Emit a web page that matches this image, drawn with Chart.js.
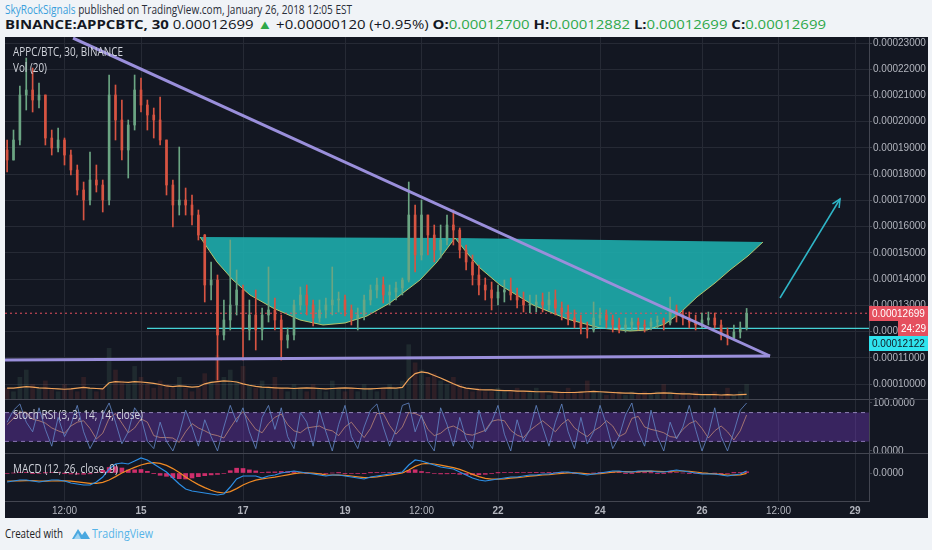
<!DOCTYPE html>
<html>
<head>
<meta charset="utf-8">
<script src="https://cdn.jsdelivr.net/npm/chart.js@4.4.1/dist/chart.umd.min.js"></script>
<style>
html, body { margin: 0; padding: 0; width: 932px; height: 550px; overflow: hidden; background: #f0f3f7; font-family: "Open Sans", sans-serif; }
.txt { position: absolute; white-space: nowrap; transform-origin: 0 50%; line-height: 16px; }
.g { color: #2ea84a; font-weight: 400; }
#frame { position: absolute; left: 5px; top: 37px; width: 923px; height: 481px; background: #131722; }
canvas { position: absolute; left: 5px; }
.sep { position: absolute; left: 5px; width: 923px; height: 1px; background: #434651; }
.lbl { position: absolute; color: #d1d4dc; font-size: 12px; white-space: nowrap; transform-origin: 0 50%; line-height: 14px; z-index: 5; }
</style>
</head>
<body>
<div class="txt" data-w="347" style="left:5px;top:1px;font-size:13px;color:#2a2e39"><span style="color:#3a9fdc">SkyRockSignals</span> published on TradingView.com, January 26, 2018 12:05 EST</div>
<div class="txt" data-w="821" style="left:5px;top:16px;font-size:13px;color:#131722"><b>BINANCE:APPCBTC, 30</b> 0.00012699 <span class="g">&#9650;</span> +0.00000120 (+0.95%) <b>O:</b><span class="g">0.00012700</span> <b>H:</b><span class="g">0.00012882</span> <b>L:</b><span class="g">0.00012699</span> <b>C:</b><span class="g">0.00012699</span></div>

<div id="frame"></div>
<canvas id="price" width="923" height="382" style="top:27px"></canvas>
<canvas id="stoch" width="923" height="74" style="top:389px"></canvas>
<canvas id="macd" width="923" height="75" style="top:443px"></canvas>
<div class="sep" style="top:399px"></div>
<div class="sep" style="top:453px"></div>

<div class="lbl" data-w="110" style="left:13px;top:45px">APPC/BTC, 30, BINANCE</div>
<div class="lbl" data-w="34" style="left:13px;top:61px">Vol (20)</div>
<div class="lbl" data-w="130" style="left:13px;top:408px">Stoch RSI (3, 3, 14, 14, close)</div>
<div class="lbl" data-w="105" style="left:13px;top:462px">MACD (12, 26, close, 9)</div>

<div class="txt" data-w="58" style="left:5px;top:526px;font-size:12px;color:#222">Created with</div>
<svg style="position:absolute;left:71px;top:525px" width="20" height="16" viewBox="0 0 20 16">
  <path d="M1 14 L7 4 L11 10 L14 6 L19 14 Z" fill="#4aa8e0"/>
  <path d="M3 14 L7 8 L10 14 Z" fill="#9fd3f2"/>
</svg>
<div class="txt" data-w="61" style="left:92px;top:526px;font-size:12.5px;color:#56b3e8">TradingView</div>

<script>
// ---- axes ----
const xMin = 12.3333, xMax = 29.2745;           // days of January 2018
const tickDays = [13.5, 15, 17, 19, 20.5, 22, 24, 26, 27.5, 29];
const tickLabels = ['12:00', '15', '17', '19', '12:00', '22', '24', '26', '12:00', '29'];
const priceTicks = [10000, 11000, 12000, 13000, 14000, 15000, 16000, 17000, 18000, 19000, 20000, 21000, 22000, 23000]; // satoshi
const stochTicks = [0, 100];
const macdTicks = [0];

// ---- candles (3h, satoshi) ----
const firstCandleDay = 12.375, candleStep = 0.125;
const firstOpen = 18921;
const candleHigh = [
  19302, 19683, 21361, 22428, 22047, 21475, 21018, 19683, 19760, 19378,
  18921, 18349, 17701, 18845, 18349, 17777, 21780, 21399, 20827, 20065,
  21780, 21666, 20827, 20522, 20941, 19302, 17777, 19035, 17472, 17206,
  16634, 15700, 14652, 14156, 13203, 15490, 14347, 13775, 13203, 13584,
  12898, 14461, 13279, 12631, 12136, 13203, 13699, 13775, 13203, 13203,
  13279, 14461, 13508, 13394, 13013, 12898, 13394, 13775, 14042, 14080,
  13775, 13889, 14042, 17701, 16824, 17015, 16443, 16062, 16062, 16443,
  16634, 15948, 15299, 14918, 14537, 14042, 13889, 13775, 13965, 14042,
  13660, 13508, 13394, 13394, 13470, 13508, 13584, 13127, 13013, 12822,
  12631, 12364, 13127, 12898, 12822, 12631, 12517, 12517, 12517, 12517,
  12441, 12517, 12593, 12517, 13318, 13013, 12822, 12746, 12631, 12708,
  12746, 12708, 12441, 12136, 12250, 12364, 12882];
const candleLow = [
  18082, 18540, 19112, 20446, 20370, 20522, 19112, 18730, 18845, 18349,
  17968, 17206, 16253, 16824, 17320, 16558, 16824, 19302, 18540, 17853,
  19683, 20370, 19683, 19378, 19112, 17206, 15986, 16443, 16443, 16062,
  15490, 13127, 13203, 10153, 11678, 12059, 12631, 10916, 11678, 11297,
  11678, 12364, 12059, 10916, 11373, 11678, 12822, 12631, 12212, 12364,
  12517, 12631, 12746, 12593, 12250, 12059, 12441, 13013, 13279, 13089,
  13013, 13203, 13394, 13889, 14270, 14728, 14918, 14652, 14804, 15299,
  15299, 14804, 14347, 13775, 13394, 13203, 12822, 13013, 13127, 13203,
  12898, 12746, 12708, 12746, 12746, 12822, 12631, 12441, 12250, 12136,
  11907, 11754, 11983, 12250, 12136, 11983, 11945, 11983, 12059, 12059,
  11983, 12059, 12136, 12059, 12250, 12364, 12250, 12136, 12059, 12136,
  12250, 12136, 11678, 11488, 11678, 11754, 12059];
const candleClose = [
  18540, 19302, 21018, 21208, 20827, 21018, 19378, 18997, 19302, 18730,
  18159, 17396, 17015, 17777, 17587, 17015, 21018, 20065, 18921, 19874,
  21208, 20636, 20255, 20065, 19302, 17587, 16824, 17015, 16824, 16443,
  15681, 13775, 13965, 11869, 12441, 13013, 13584, 12059, 12631, 12059,
  12631, 12822, 12441, 11678, 11869, 13013, 13394, 13013, 12517, 12822,
  13013, 13203, 13203, 12822, 12517, 12631, 13203, 13584, 13775, 13394,
  13508, 13660, 13965, 16443, 14918, 16443, 15681, 15109, 15490, 16062,
  15871, 15109, 14652, 14156, 13775, 13584, 13279, 13508, 13584, 13394,
  13203, 13013, 13013, 13127, 13013, 13203, 12898, 12746, 12517, 12364,
  12136, 12059, 12517, 12631, 12441, 12250, 12136, 12250, 12364, 12250,
  12212, 12364, 12441, 12326, 12822, 12631, 12517, 12364, 12250, 12441,
  12517, 12250, 11869, 11754, 11983, 12136, 12699];

// ---- volume ----
const volume = [
  3, 2, 6, 8, 4, 3, 5, 3, 2, 4, 3, 2, 6, 3, 2, 3,
  14, 8, 5, 4, 9, 6, 4, 3, 5,
  4, 3, 6, 3, 2, 3,
  7, 5, 12, 6, 8, 5, 9,
  4, 3, 5, 3, 6, 3, 2, 4,
  3, 2, 4, 3, 2, 5, 3, 2, 3, 2, 4, 3, 2, 3, 4, 3, 5,
  15, 10, 8, 6, 7, 5, 4, 6,
  4, 3, 2, 3, 2, 2, 3, 2, 2, 3,
  2, 2, 3, 2, 1, 2, 2, 3, 2, 2, 5, 2, 2, 1, 2, 2, 1, 2, 1, 2,
  1, 2, 4, 2, 1, 2, 1, 2, 1, 1, 2, 1, 3, 1, 2, 4];
const volumeMA = [
  3.0, 3.0, 3.2, 3.4, 3.3, 3.1, 3.0, 2.9, 2.8, 2.7, 2.8, 3.0, 3.2, 3.0, 2.9, 2.8,
  4.5, 4.8, 4.7, 4.6, 4.8, 4.7, 4.5, 4.3, 4.0,
  3.6, 3.4, 3.6, 3.5, 3.3, 3.4,
  4.2, 4.6, 4.8, 5.0, 4.9, 4.7, 4.2,
  3.8, 3.5, 3.3, 3.2, 3.1, 3.0, 3.0, 2.9,
  3.0, 3.1, 3.0, 2.9, 2.8, 2.9, 3.0, 3.1, 3.0, 2.9, 2.8, 2.8, 2.9, 3.0, 3.1, 3.0, 3.2,
  5.5, 7.0, 7.5, 7.2, 6.5, 5.8, 5.0, 4.2,
  3.5, 3.0, 2.8, 2.6, 2.5, 2.5, 2.4, 2.3, 2.3, 2.2,
  2.2, 2.1, 2.0, 2.0, 2.0, 1.9, 1.8, 1.8, 1.8, 1.9, 2.0, 2.1, 2.0, 1.9, 1.8, 1.7, 1.6, 1.6, 1.5, 1.5,
  1.5, 1.6, 1.7, 1.6, 1.5, 1.4, 1.4, 1.3, 1.2, 1.2, 1.2, 1.1, 1.2, 1.1, 1.2, 1.3];

// ---- drawings on the price pane (day, satoshi) ----
const cup1Days = [16.157, 16.490, 16.804, 17.137, 17.588, 18.118, 18.569, 19.000, 19.431, 19.882, 20.137, 20.471, 20.804, 21.157];
const cup1Prices = [15605, 14652, 13965, 13394, 12898, 12441, 12250, 12326, 12593, 13089, 13470, 13965, 14652, 15567];
const cup1TopDays = [16.157, 21.157];
const cup1TopPrices = [15605, 15567];
const cup2Days = [21.157, 21.392, 21.647, 22.039, 22.686, 23.353, 24.000, 24.588, 24.922, 25.275, 25.569, 25.902, 26.255, 26.549, 26.902, 27.196];
const cup2Prices = [15567, 14995, 14423, 13775, 13013, 12479, 12136, 12021, 12059, 12288, 12708, 13318, 13851, 14347, 14881, 15414];
const cup2TopDays = [21.157, 27.196];
const cup2TopPrices = [15567, 15414];
const fallingLine = [[13.667, 23190], [27.333, 11068]];
const supportLine = [[12.333, 10916], [27.333, 11068]];
const lastPrice = 12699;
const cyanLevel = 12122;
const cyanStartDay = 15.118;
const arrowLine = [[27.529, 13279], [28.706, 17053]];
const countdown = '24:29';

// ---- stoch RSI ----
const stochK = [
  60, 85, 98, 60, 40, 90, 45, 10, 70, 30,
  55, 95, 40, 5, 30, 75, 100, 60, 15, 40,
  90, 70, 20, 5, 60, 20, 0, 35, 85, 50,
  10, 65, 30, 0, 50, 95, 60, 90, 40, 5,
  70, 95, 45, 90, 30, 5, 80, 60, 10, 85,
  40, 0, 55, 95, 30, 5, 50, 85, 98, 50,
  10, 45, 95, 100, 40, 75, 20, 0, 90, 55,
  10, 70, 25, 5, 85, 40, 60, 95, 35, 0,
  65, 20, 45, 95, 50, 10, 60, 98, 40, 5,
  70, 15, 40, 95, 55, 5, 30, 75, 100, 40,
  10, 85, 30, 0, 60, 25, 50, 95, 45, 0,
  35, 90, 30, 0, 40, 85, 100];
const stochD = [
  55, 68, 81, 81, 66, 63, 58, 48, 42, 37,
  52, 60, 63, 47, 25, 37, 68, 78, 58, 38,
  48, 67, 60, 32, 28, 28, 27, 18, 40, 57,
  48, 42, 35, 32, 27, 48, 68, 82, 63, 45,
  38, 57, 70, 77, 55, 42, 38, 48, 50, 52,
  45, 42, 32, 50, 60, 43, 28, 47, 78, 78,
  53, 35, 50, 80, 78, 72, 45, 32, 37, 48,
  52, 45, 35, 33, 38, 43, 62, 65, 63, 43,
  33, 28, 43, 53, 63, 52, 40, 56, 66, 48,
  38, 30, 42, 50, 63, 52, 30, 37, 68, 72,
  50, 45, 42, 38, 30, 28, 45, 57, 63, 47,
  27, 42, 52, 40, 23, 42, 75];
const stochBands = [80, 20];

// ---- MACD (satoshi) ----
const macdLine = [
  -450, -400, -350, -350, -400, -450, -400, -350, -350, -400,
  -500, -550, -600, -600, -450, -200, 200, 450, 500, 450,
  600, 750, 650, 450, 250, 50, -250, -550, -800, -900,
  -950, -1000, -1050, -1100, -1050, -700, -300, -150, -150, -150,
  -250, -150, -100, 0, 50, 100, 50, 0, -50, -100,
  -150, -100, -100, -150, -200, -250, -300, -200, -150, -100,
  -50, 0, 50, 400, 650, 600, 500, 400, 300, 250,
  200, 50, -100, -250, -350, -400, -350, -300, -250, -200,
  -200, -150, -100, -100, -50, -50, 0, 50, 50, 0,
  -50, -100, -50, 0, 50, 100, 100, 50, 50, 100,
  100, 100, 50, 50, 100, 150, 100, 50, 0, -50,
  -50, -50, -100, -150, -100, -50, 100];
const macdSignal = [
  -400, -400, -390, -380, -380, -400, -410, -400, -390, -390,
  -410, -440, -480, -520, -520, -470, -350, -180, 0, 150,
  280, 400, 480, 520, 480, 380, 220, 20, -200, -400,
  -580, -730, -860, -960, -1000, -930, -780, -600, -460, -360,
  -290, -250, -210, -150, -90, -30, 10, 10, -10, -40,
  -90, -100, -110, -120, -150, -190, -230, -220, -190, -150,
  -110, -60, 0, 150, 330, 450, 480, 450, 390, 330,
  270, 180, 60, -70, -180, -270, -310, -310, -290, -260,
  -230, -200, -160, -130, -100, -80, -50, -20, 10, 10,
  -10, -40, -50, -30, 0, 40, 70, 70, 60, 70,
  80, 90, 80, 70, 80, 100, 100, 80, 50, 10,
  -20, -40, -70, -100, -110, -90, -20];
const macdHist = [
  -25, 0, 20, 15, -10, -25, 5, 25, 20, -5,
  -45, -55, -60, -40, 35, 135, 275, 315, 250, 150,
  160, 175, 85, -35, -115, -165, -235, -285, -300, -250,
  -185, -135, -95, -70, -25, 115, 240, 225, 155, 105,
  20, 50, 55, 75, 70, 65, 20, -5, -20, -30,
  -30, 0, 5, -15, -25, -30, -35, 10, 20, 25,
  30, 30, 25, 125, 160, 75, 10, -25, -45, -40,
  -35, -65, -80, -90, -85, -65, -20, 5, 20, 30,
  15, 25, 30, 15, 25, 15, 25, 35, 20, -5,
  -20, -30, 0, 15, 25, 30, 15, -10, -5, 15,
  10, 5, -15, -10, 10, 25, 0, -15, -25, -30,
  -15, -5, -15, -25, 5, 20, 60];

// ---- styling ----
const upColor = '#6ba583', downColor = '#d75442';
const gridColor = '#262a35', axisColor = '#434651', tickColor = '#b2b5be';
const axisFont = '"Liberation Sans", Arial, sans-serif';

const candleTimes = candleClose.map((_, i) => firstCandleDay + i * candleStep);
const candleOpen = candleClose.map((c, i) => i === 0 ? firstOpen : candleClose[i - 1]);
const isUp = i => candleClose[i] >= candleOpen[i];
const pts = (xs, ys) => xs.map((x, i) => ({x: x, y: ys[i]}));
const pairPts = arr => arr.map(p => ({x: p[0], y: p[1]}));
const fmtPrice = v => (v / 1e8).toFixed(8);

function xScale(showLabels) {
    return {
        type: 'linear', min: xMin, max: xMax, offset: false,
        afterBuildTicks: s => { s.ticks = tickDays.map(v => ({value: v})); },
        afterFit: s => { s.height = showLabels ? 17 : 0; },
        grid: {color: gridColor, drawTicks: false, offset: false},
        border: {display: showLabels, color: axisColor},
        ticks: {
            display: showLabels, autoSkip: false, maxRotation: 0, padding: 4, color: tickColor,
            callback: (v, i) => tickLabels[i],
            font: ctx => ({family: axisFont, size: 10, weight: tickLabels[ctx.index] === '12:00' ? 'normal' : 'bold'})
        }
    };
}

function yScale(min, max, ticks, fmt, gridOn) {
    return {
        position: 'right', min: min, max: max,
        afterBuildTicks: s => { s.ticks = ticks.map(v => ({value: v})); },
        afterFit: s => { s.width = 59; },
        grid: {color: gridOn ? gridColor : 'transparent', tickLength: 3, tickColor: axisColor},
        border: {color: axisColor},
        ticks: {color: tickColor, font: {family: axisFont, size: 10}, padding: 1, callback: fmt}
    };
}

const baseOptions = {
    responsive: false, animation: false, events: [],
    plugins: {legend: {display: false}, tooltip: {enabled: false}},
    elements: {point: {radius: 0}, line: {tension: 0}},
};

function tag(ctx, x, y, w, text, bg, fg) {
    ctx.fillStyle = bg;
    ctx.fillRect(x, Math.round(y) - 7, w, 15);
    ctx.fillStyle = fg;
    ctx.fillText(text, x + 3, Math.round(y) + 1);
}

const priceOverlay = {
    id: 'priceOverlay',
    afterDatasetsDraw(chart) {
        const meta = chart.getDatasetMeta(chart.data.datasets.findIndex(d => d.label === 'arrow'));
        const p0 = meta.data[0], p1 = meta.data[1];
        const a = Math.atan2(p1.y - p0.y, p1.x - p0.x);
        const ctx = chart.ctx;
        ctx.save();
        ctx.strokeStyle = '#2fb6c8';
        ctx.lineWidth = 1.5;
        ctx.beginPath();
        ctx.moveTo(p1.x - 9 * Math.cos(a - 0.45), p1.y - 9 * Math.sin(a - 0.45));
        ctx.lineTo(p1.x, p1.y);
        ctx.lineTo(p1.x - 9 * Math.cos(a + 0.45), p1.y - 9 * Math.sin(a + 0.45));
        ctx.stroke();
        ctx.restore();
    },
    afterDraw(chart) {
        const {ctx, chartArea, scales} = chart;
        const right = chartArea.right;
        ctx.save();
        ctx.font = '10px ' + axisFont;
        ctx.textBaseline = 'middle';
        const yLast = scales.y.getPixelForValue(lastPrice);
        const yCyan = scales.y.getPixelForValue(cyanLevel);
        tag(ctx, right, yLast, 59, fmtPrice(lastPrice), '#e5505f', '#ffffff');
        tag(ctx, right, yCyan + 14.5, 59, fmtPrice(cyanLevel), '#2fe3ee', '#131722');
        tag(ctx, right + 29, yCyan, 30, countdown, '#e5505f', '#ffffff');
        ctx.restore();
    }
};

new Chart(document.getElementById('price'), {
    type: 'bar',
    data: {
        datasets: [
            {type: 'line', label: 'cup1', data: pts(cup1Days, cup1Prices), borderColor: 'rgba(196,206,110,0.9)', borderWidth: 1,
             backgroundColor: 'rgba(30,172,172,0.9)', fill: '+1', order: 7},
            {type: 'line', label: 'cup1top', data: pts(cup1TopDays, cup1TopPrices), borderWidth: 0, borderColor: 'transparent', order: 7},
            {type: 'line', label: 'cup2', data: pts(cup2Days, cup2Prices), borderColor: 'rgba(196,206,110,0.9)', borderWidth: 1,
             backgroundColor: 'rgba(30,172,172,0.9)', fill: '+1', order: 7},
            {type: 'line', label: 'cup2top', data: pts(cup2TopDays, cup2TopPrices), borderWidth: 0, borderColor: 'transparent', order: 7},
            {label: 'volume', yAxisID: 'yVol', data: pts(candleTimes, volume), barThickness: 4, grouped: false, order: 9,
             backgroundColor: ctx => isUp(ctx.dataIndex) ? 'rgba(107,165,131,0.14)' : 'rgba(215,84,66,0.14)'},
            {type: 'line', label: 'volMA', yAxisID: 'yVol', data: pts(candleTimes, volumeMA), borderColor: '#f0a35a', borderWidth: 1.2, order: 8},
            {type: 'line', label: 'last', data: [{x: xMin, y: lastPrice}, {x: xMax, y: lastPrice}], borderColor: '#e5505f', borderWidth: 1, borderDash: [2, 3], order: 6},
            {type: 'line', label: 'cyan', data: [{x: cyanStartDay, y: cyanLevel}, {x: xMax, y: cyanLevel}], borderColor: '#45d3d6', borderWidth: 1.2, order: 6},
            {label: 'wick', data: candleTimes.map((t, i) => ({x: t, y: [candleLow[i], candleHigh[i]]})), barThickness: 1, grouped: false, order: 3,
             backgroundColor: ctx => isUp(ctx.dataIndex) ? upColor : downColor},
            {label: 'body', data: candleTimes.map((t, i) => ({x: t, y: [candleOpen[i], candleClose[i]]})), barThickness: 2, minBarLength: 1, grouped: false, order: 2,
             backgroundColor: ctx => isUp(ctx.dataIndex) ? upColor : downColor},
            {type: 'line', label: 'falling', data: pairPts(fallingLine), borderColor: '#9a8fdb', borderWidth: 3, order: 1},
            {type: 'line', label: 'support', data: pairPts(supportLine), borderColor: '#9a8fdb', borderWidth: 3, order: 1},
            {type: 'line', label: 'arrow', data: pairPts(arrowLine), borderColor: '#2fb6c8', borderWidth: 1.5, order: 1}
        ]
    },
    options: Object.assign({}, baseOptions, {
        layout: {padding: {top: 10, bottom: 10, left: 0, right: 0}},
        scales: {
            x: xScale(false),
            y: yScale(9429, 23229, priceTicks, fmtPrice, true),
            yVol: {display: false, min: 0, max: 100}
        }
    }),
    plugins: [priceOverlay]
});

new Chart(document.getElementById('stoch'), {
    type: 'line',
    data: {
        datasets: [
            {label: 'band80', data: [{x: xMin, y: stochBands[0]}, {x: xMax, y: stochBands[0]}], borderColor: 'rgba(170,155,210,0.8)',
             borderWidth: 1, borderDash: [4, 4], backgroundColor: 'rgba(122,60,205,0.36)', fill: '+1', order: 3},
            {label: 'band20', data: [{x: xMin, y: stochBands[1]}, {x: xMax, y: stochBands[1]}], borderColor: 'rgba(170,155,210,0.8)',
             borderWidth: 1, borderDash: [4, 4], order: 3},
            {label: 'D', data: pts(candleTimes, stochD), borderColor: 'rgba(196,140,120,0.75)', borderWidth: 1, order: 2},
            {label: 'K', data: pts(candleTimes, stochK), borderColor: 'rgba(100,136,200,0.8)', borderWidth: 1, order: 1}
        ]
    },
    options: Object.assign({}, baseOptions, {
        layout: {padding: {top: 10, bottom: 10, left: 0, right: 0}},
        scales: {
            x: xScale(false),
            y: yScale(-4.2, 108.3, stochTicks, v => v.toFixed(4), false)
        }
    })
});

new Chart(document.getElementById('macd'), {
    type: 'bar',
    data: {
        datasets: [
            {label: 'hist', data: pts(candleTimes, macdHist), barThickness: 4, grouped: false, backgroundColor: 'rgba(240,50,120,0.85)', order: 3},
            {type: 'line', label: 'signal', data: pts(candleTimes, macdSignal), borderColor: '#f08a24', borderWidth: 1.2, order: 2},
            {type: 'line', label: 'macd', data: pts(candleTimes, macdLine), borderColor: '#2d8fe6', borderWidth: 1.2, order: 1}
        ]
    },
    options: Object.assign({}, baseOptions, {
        layout: {padding: {top: 10, bottom: 0, left: 0, right: 0}},
        scales: {
            x: xScale(true),
            y: yScale(-1400, 1000, macdTicks, v => (v / 1e8).toFixed(4), false)
        }
    })
});

document.querySelectorAll('[data-w]').forEach(el => {
    const w = el.getBoundingClientRect().width;
    el.style.transform = 'scaleX(' + (el.dataset.w / w) + ')';
});
</script>
</body>
</html>
